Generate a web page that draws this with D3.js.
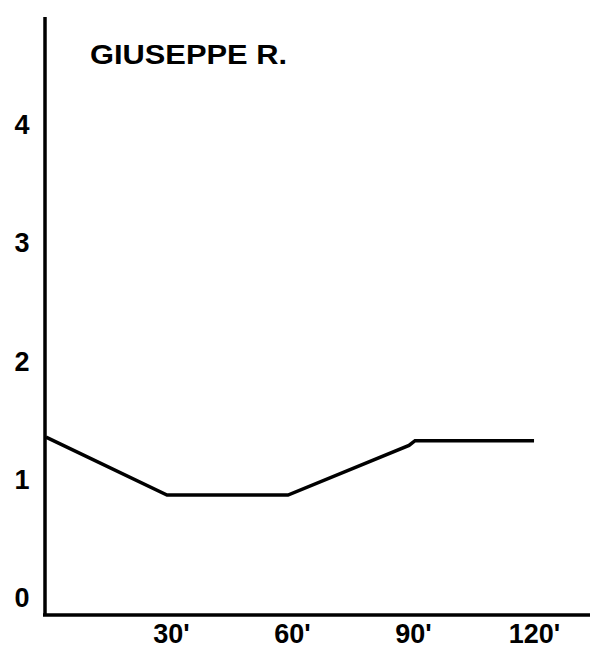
<!DOCTYPE html>
<html>
<head>
<meta charset="utf-8">
<script src="https://cdn.jsdelivr.net/npm/d3@7"></script>
<style>
  body { margin: 0; background: #fff; }
  text { font-family: "Liberation Sans", Arial, sans-serif; fill: #000; font-weight: bold; }
</style>
</head>
<body>
<div id="chart"></div>
<script>
// data
var minutes = [0, 30, 60, 90, 91.5, 121];
var values = [1.36, 0.87, 0.87, 1.29, 1.33, 1.33];
var xTicks = [30, 60, 90, 120];
var xTickLabels = ["30'", "60'", "90'", "120'"];
var yTicks = [0, 1, 2, 3, 4];
var title = "GIUSEPPE R.";

var width = 593, height = 652;

var svg = d3.select("#chart").append("svg")
  .attr("width", width)
  .attr("height", height);

// set the ranges
var x = d3.scaleLinear().domain([0, 120]).range([46, 530]);
var y = d3.scaleLinear().domain([0, 4]).range([598, 125]);

var axisY = 615;

// y axis line
svg.append("line")
  .attr("x1", 45).attr("x2", 45)
  .attr("y1", 17).attr("y2", axisY)
  .attr("stroke", "#000").attr("stroke-width", 3.5);

// x axis line
svg.append("line")
  .attr("x1", 43).attr("x2", 590)
  .attr("y1", axisY).attr("y2", axisY)
  .attr("stroke", "#000").attr("stroke-width", 3.5);

// y tick labels
var yAxis = svg.append("g")
  .attr("transform", "translate(30,0)")
  .call(d3.axisLeft(y).tickValues(yTicks).tickSize(0).tickPadding(0).tickFormat(d3.format("d")));
yAxis.select(".domain").remove();
yAxis.selectAll("text")
  .attr("text-anchor", "middle")
  .attr("x", -8)
  .style("font-size", "27px")
  .style("font-weight", "bold")
  .style("font-family", "Liberation Sans, Arial, sans-serif");

// x tick labels
var xAxis = svg.append("g")
  .attr("transform", "translate(0," + axisY + ")")
  .call(d3.axisBottom(x).tickValues(xTicks).tickSize(0).tickPadding(9)
    .tickFormat(function (d, i) { return xTickLabels[i]; }));
xAxis.select(".domain").remove();
xAxis.selectAll("text")
  .attr("dx", 4)
  .style("font-size", "27px")
  .style("font-weight", "bold")
  .style("font-family", "Liberation Sans, Arial, sans-serif");

// the line
var valueline = d3.line()
  .x(function (d, i) { return x(minutes[i]); })
  .y(function (d) { return y(d); });

svg.append("path")
  .datum(values)
  .attr("d", valueline)
  .attr("fill", "none")
  .attr("stroke", "#000")
  .attr("stroke-width", 3.5);

// title
svg.append("text")
  .attr("x", 90)
  .attr("y", 64)
  .style("font-size", "27px")
  .attr("textLength", 197)
  .attr("lengthAdjust", "spacingAndGlyphs")
  .text(title);
</script>
</body>
</html>
